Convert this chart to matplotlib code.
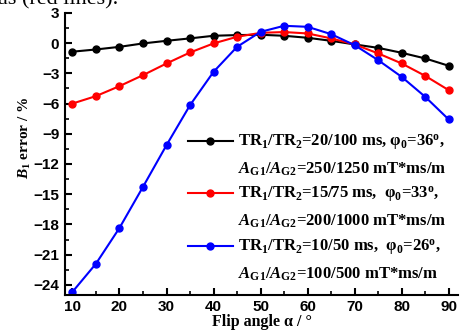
import numpy as np
import matplotlib
matplotlib.use('Agg')
import matplotlib.pyplot as plt
from matplotlib.lines import Line2D
from matplotlib.ticker import MultipleLocator

# Data
flip_angle = [10, 15, 20, 25, 30, 35, 40, 45, 50, 55, 60, 65, 70, 75, 80, 85, 90]
err_20_100 = [-0.85, -0.63, -0.37, -0.03, 0.23, 0.47, 0.73, 0.80, 0.83, 0.73,
              0.53, 0.23, -0.13, -0.47, -0.96, -1.52, -2.25]
err_15_75 = [-6.0, -5.26, -4.27, -3.18, -2.02, -0.93, -0.03, 0.63, 1.02, 1.10,
             0.96, 0.47, -0.13, -1.02, -2.02, -3.25, -4.67]
err_10_50 = [-24.7, -21.9, -18.35, -14.27, -10.13, -6.16, -2.85, -0.37, 1.12, 1.72,
             1.62, 0.89, -0.2, -1.69, -3.35, -5.33, -7.58]

labels = [
    (r'TR$_{\mathbf{1}}$/TR$_{\mathbf{2}}$=20/100 ms, φ$_{\mathbf{0}}$=36$^{\mathrm{o}}$,',
     r'$A_{\mathrm{G1}}$/$A_{\mathrm{G2}}$=250/1250 mT*ms/m'),
    (r'TR$_{\mathbf{1}}$/TR$_{\mathbf{2}}$=15/75 ms,  φ$_{\mathbf{0}}$=33$^{\mathrm{o}}$,',
     r'$A_{\mathrm{G1}}$/$A_{\mathrm{G2}}$=200/1000 mT*ms/m'),
    (r'TR$_{\mathbf{1}}$/TR$_{\mathbf{2}}$=10/50 ms,  φ$_{\mathbf{0}}$=26$^{\mathrm{o}}$,',
     r'$A_{\mathrm{G1}}$/$A_{\mathrm{G2}}$=100/500 mT*ms/m'),
]
colors = ['black', '#ff0000', '#0000ff']

plt.rcParams['mathtext.fontset'] = 'custom'
plt.rcParams['mathtext.rm'] = 'Liberation Serif:bold'
plt.rcParams['mathtext.bf'] = 'Liberation Serif:bold'
plt.rcParams['mathtext.it'] = 'Liberation Serif:italic:bold'

fig = plt.figure(figsize=(4.67, 3.31), dpi=100)
ax = fig.add_axes([0.139, 0.109, 0.842, 0.852])

series = [err_20_100, err_15_75, err_10_50]
for vals, c in zip(series, colors):
    ax.plot(flip_angle, vals, color=c, linewidth=1.5, marker='o', markersize=5)

ax.set_xlim(8.4, 92)
ax.set_ylim(-25, 3)
ax.xaxis.set_major_locator(MultipleLocator(10))
ax.xaxis.set_minor_locator(MultipleLocator(5))
ax.yaxis.set_major_locator(MultipleLocator(3))
ax.yaxis.set_minor_locator(MultipleLocator(1.5))

for s in ['top', 'right']:
    ax.spines[s].set_visible(False)
for s in ['left', 'bottom']:
    ax.spines[s].set_linewidth(1.5)

ax.tick_params(which='major', direction='in', length=5, width=1.5, labelsize=11, pad=4)
ax.tick_params(which='minor', direction='in', length=3, width=1.2)
for t in ax.get_xticklabels() + ax.get_yticklabels():
    t.set_fontfamily('Liberation Sans')
    t.set_fontweight('bold')

ax.set_ylabel(r'$B_{\mathrm{1}}$ error / %', fontfamily='Liberation Serif',
              fontweight='bold', fontsize=11)
ax.yaxis.set_label_coords(-0.082, 0.557)
ax.set_xlabel('Flip angle α / °', fontfamily='Liberation Serif',
              fontweight='bold', fontsize=11.5, labelpad=0)

# legend: first row of each entry carries the handle, second row is blank
handles, texts = [], []
for c, (l1, l2) in zip(colors, labels):
    handles.append(Line2D([], [], color=c, linewidth=1.5, marker='o', markersize=5))
    texts.append(l1)
    handles.append(Line2D([], [], color='none'))
    texts.append(l2)
fig.legend(handles, texts, loc='upper left', bbox_to_anchor=(188 / 467, 1 - 133 / 331),
           frameon=False, borderpad=0, borderaxespad=0, handlelength=2.67,
           handletextpad=0.35, labelspacing=0.45,
           prop={'family': 'Liberation Serif', 'weight': 'bold', 'size': 12})

# cropped caption text from the page above the chart
fig.text(-0.005, 1 - 4 / 331, 'as (red lines).', fontfamily='Liberation Serif',
         fontsize=16, va='baseline', ha='left')

fig.savefig('out.png', dpi=100)
